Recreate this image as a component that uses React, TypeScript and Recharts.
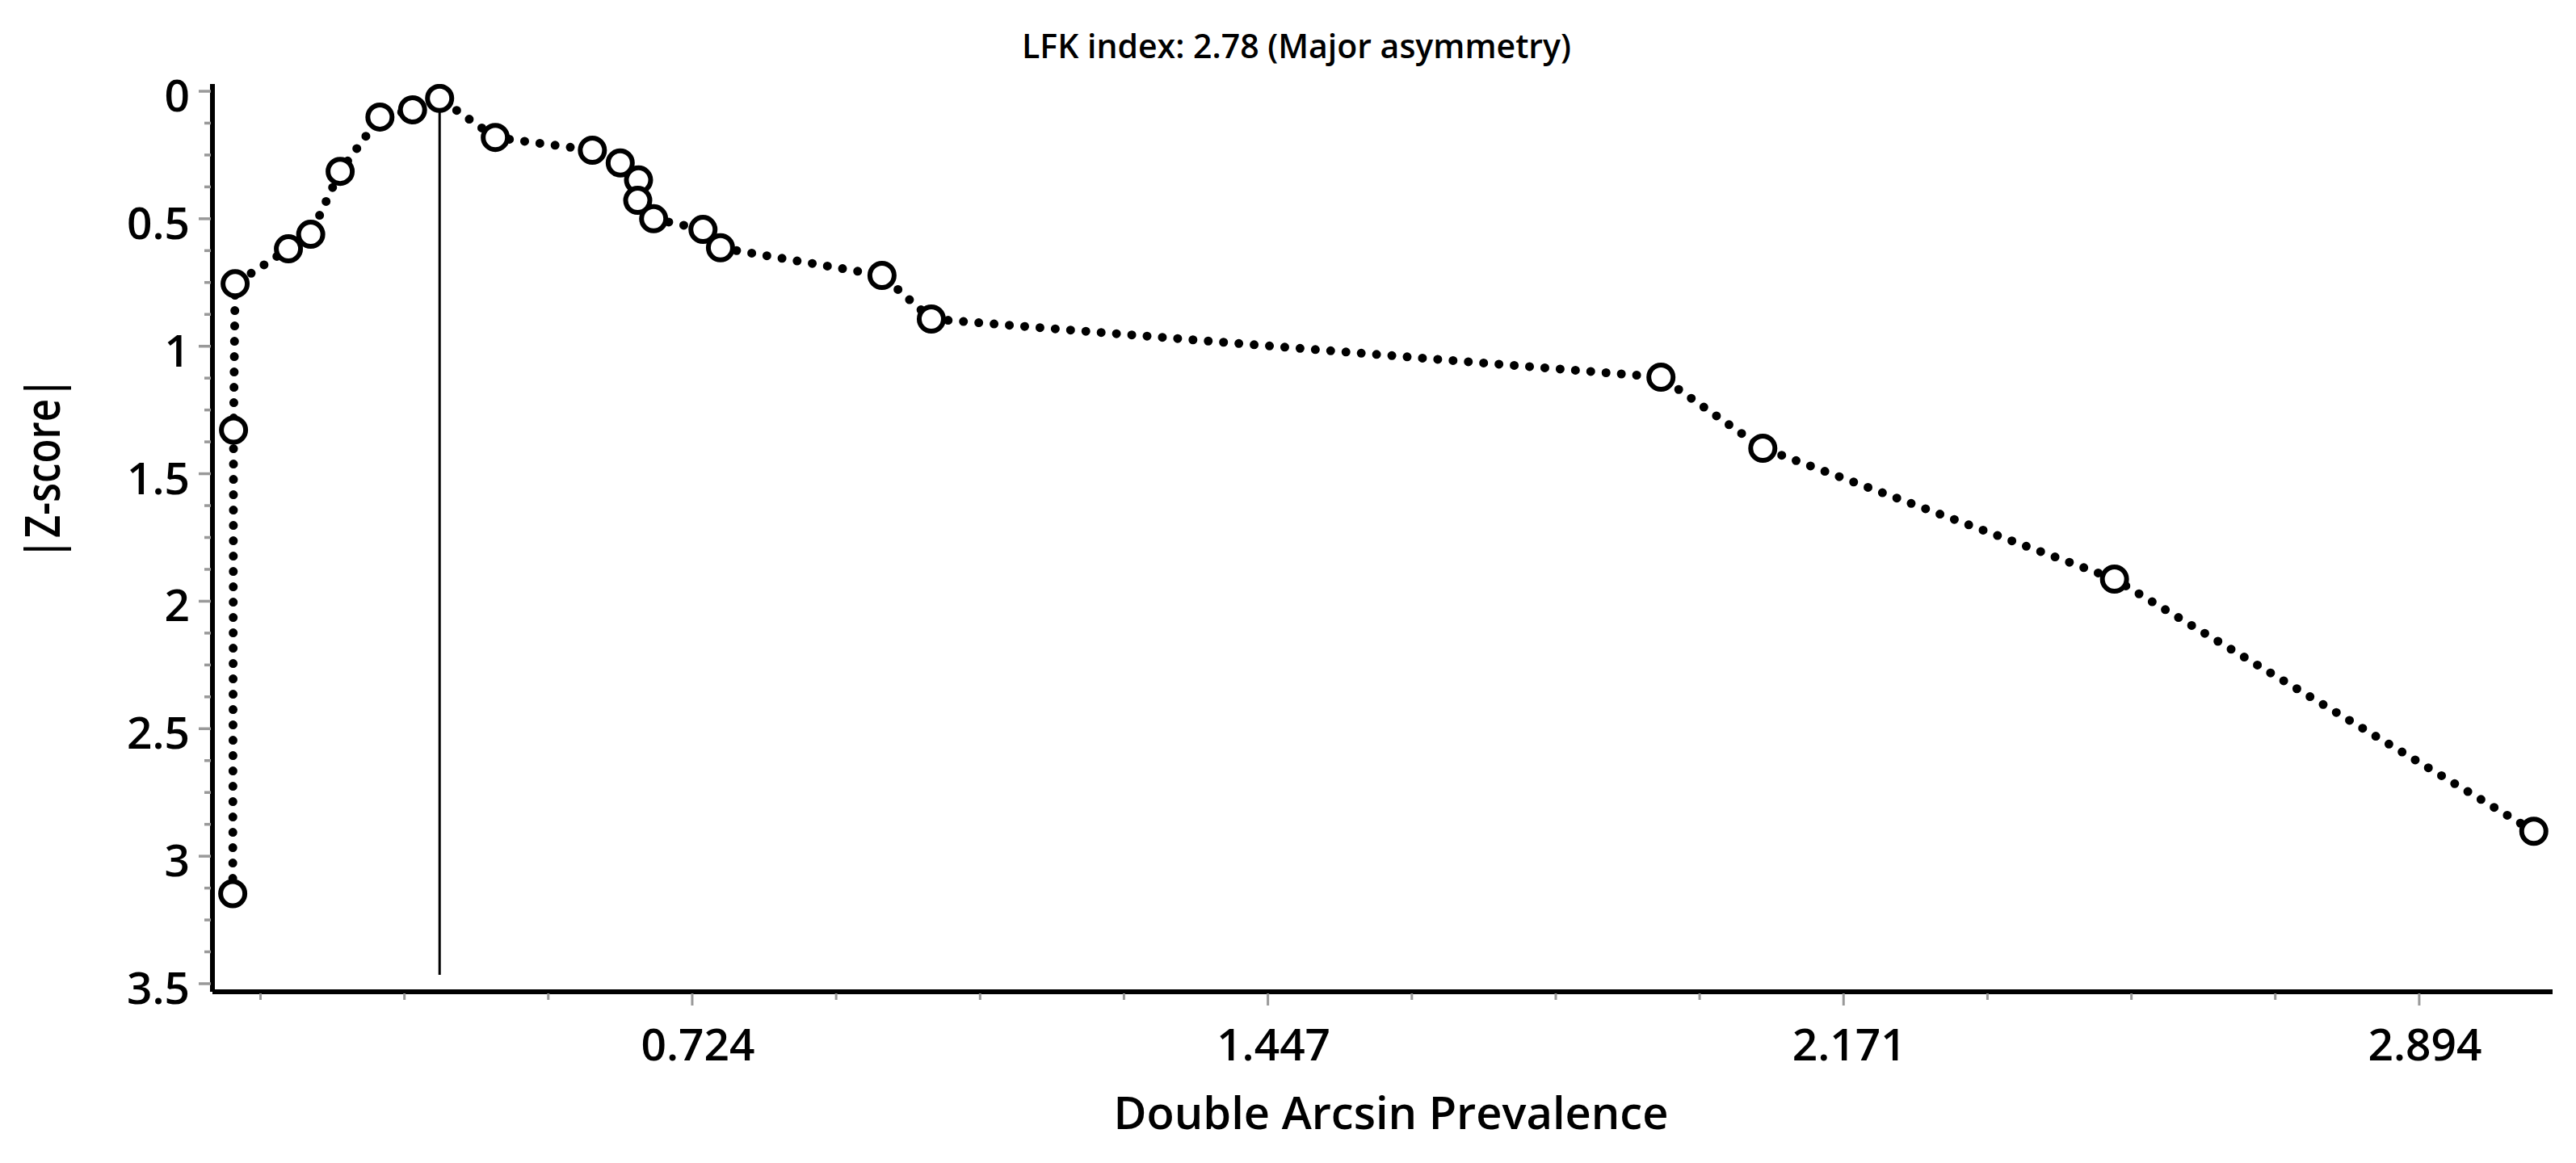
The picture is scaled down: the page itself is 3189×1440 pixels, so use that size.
// App.tsx – LFK / Doi plot

import { LineChart, Line, XAxis, YAxis } from 'recharts'

const FONT = '"Open Sans", "Noto Sans", sans-serif'

// study points, in plotting order
const prevalence = [
  0.146, 0.147, 0.149, 0.216, 0.244, 0.281, 0.331, 0.372, 0.406, 0.476, 0.598,
  0.633, 0.656, 0.655, 0.675, 0.737, 0.759, 0.962, 1.024, 1.941, 2.069, 2.511,
  3.038,
]
const zScore = [
  3.147, 1.329, 0.755, 0.618, 0.561, 0.314, 0.101, 0.073, 0.028, 0.181, 0.231,
  0.281, 0.348, 0.428, 0.5, 0.542, 0.614, 0.722, 0.893, 1.121, 1.4, 1.913,
  2.902,
]

// vertical line under the point closest to zero
const refLineX = [0.406, 0.406]
const refLineZ = [0.028, 3.465]

const xTicks = [
  0.1809, 0.3618, 0.5426, 0.7235, 0.9044, 1.0853, 1.2661, 1.447, 1.6279,
  1.8088, 1.9896, 2.1705, 2.3514, 2.5323, 2.7131, 2.894,
]
const xTickLabels: Record<number, string> = {
  0.7235: '0.724',
  1.447: '1.447',
  2.1705: '2.171',
  2.894: '2.894',
}

const yTicks = [
  0, 0.125, 0.25, 0.375, 0.5, 0.625, 0.75, 0.875, 1, 1.125, 1.25, 1.375, 1.5,
  1.625, 1.75, 1.875, 2, 2.125, 2.25, 2.375, 2.5, 2.625, 2.75, 2.875, 3, 3.125,
  3.25, 3.375, 3.5,
]
const yTickLabels: Record<number, string> = {
  0: '0',
  0.5: '0.5',
  1: '1',
  1.5: '1.5',
  2: '2',
  2.5: '2.5',
  3: '3',
  3.5: '3.5',
}

const points = prevalence.map((x, i) => ({ x, z: zScore[i] }))
const refLine = refLineX.map((x, i) => ({ x, z: refLineZ[i] }))

const XTick = (props: any) => {
  const { x, y, payload } = props
  const label = xTickLabels[payload.value]
  const major = label !== undefined
  return (
    <g>
      <line
        x1={x}
        x2={x}
        y1={y + 2}
        y2={y + (major ? 17 : 10)}
        stroke="#999"
        strokeWidth={3}
      />
      {major && (
        <text
          x={x + 7}
          y={y + 85}
          textAnchor="middle"
          fontFamily={FONT}
          fontSize={55}
          fontWeight={600}
          fill="#000"
        >
          {label}
        </text>
      )}
    </g>
  )
}

const YTick = (props: any) => {
  const { x, y, payload } = props
  const label = yTickLabels[payload.value]
  const major = label !== undefined
  return (
    <g>
      <line
        x1={x - 2}
        x2={x - (major ? 17 : 10)}
        y1={y}
        y2={y}
        stroke="#999"
        strokeWidth={3.5}
      />
      {major && (
        <text
          x={x - 28}
          y={y + 25}
          textAnchor="end"
          fontFamily={FONT}
          fontSize={55}
          fontWeight={600}
          fill="#000"
        >
          {label}
        </text>
      )}
    </g>
  )
}

const renderDot = (props: any) => {
  const { cx, cy, index } = props
  return (
    <circle
      key={`dot-${index}`}
      cx={cx}
      cy={cy}
      r={15}
      fill="#fff"
      stroke="#000"
      strokeWidth={6}
    />
  )
}

const App = () => {
  return (
    <div style={{ position: 'relative', width: 3173, height: 1424 }}>
      <div
        style={{
          position: 'absolute',
          top: 27,
          left: 1597,
          transform: 'translateX(-50%)',
          whiteSpace: 'nowrap',
          fontFamily: FONT,
          fontSize: 41,
          fontWeight: 600,
          lineHeight: '42px',
          color: '#000',
        }}
      >
        LFK index: 2.78 (Major asymmetry)
      </div>
      <LineChart
        width={3173}
        height={1424}
        data={points}
        margin={{ top: 96, right: 21, bottom: 4, left: 0 }}
      >
        <XAxis
          type="number"
          dataKey="x"
          domain={[0.1205, 3.0616]}
          allowDataOverflow
          ticks={xTicks}
          interval={0}
          height={200}
          tickSize={0}
          tickMargin={0}
          tickLine={false}
          axisLine={{ stroke: '#000', strokeWidth: 6 }}
          tick={<XTick />}
          label={{
            value: 'Double Arcsin Prevalence',
            content: () => (
              <text
                x={1714}
                y={1390}
                textAnchor="middle"
                fontFamily={FONT}
                fontSize={56}
                fontWeight={600}
                fill="#000"
              >
                Double Arcsin Prevalence
              </text>
            ),
          }}
        />
        <YAxis
          type="number"
          dataKey="z"
          domain={[-0.0285, 3.5317]}
          allowDataOverflow
          reversed
          ticks={yTicks}
          interval={0}
          width={255}
          tickSize={0}
          tickMargin={0}
          tickLine={false}
          axisLine={{ stroke: '#000', strokeWidth: 6 }}
          tick={<YTick />}
          label={{
            value: '|Z-score|',
            content: () => (
              <text
                transform="translate(66,572) rotate(-90) scale(0.82,1)"
                x={0}
                y={0}
                textAnchor="middle"
                fontFamily={FONT}
                fontSize={60}
                fontWeight={600}
                fill="#000"
              >
                |Z-score|
              </text>
            ),
          }}
        />
        <Line
          type="linear"
          dataKey="z"
          stroke="#000"
          strokeWidth={11}
          strokeDasharray="0 19"
          strokeLinecap="round"
          dot={renderDot}
          activeDot={false}
          isAnimationActive={false}
        />
        <Line
          data={refLine}
          type="linear"
          dataKey="z"
          stroke="#000"
          strokeWidth={3}
          dot={false}
          activeDot={false}
          isAnimationActive={false}
        />
      </LineChart>
    </div>
  )
}

export default App
